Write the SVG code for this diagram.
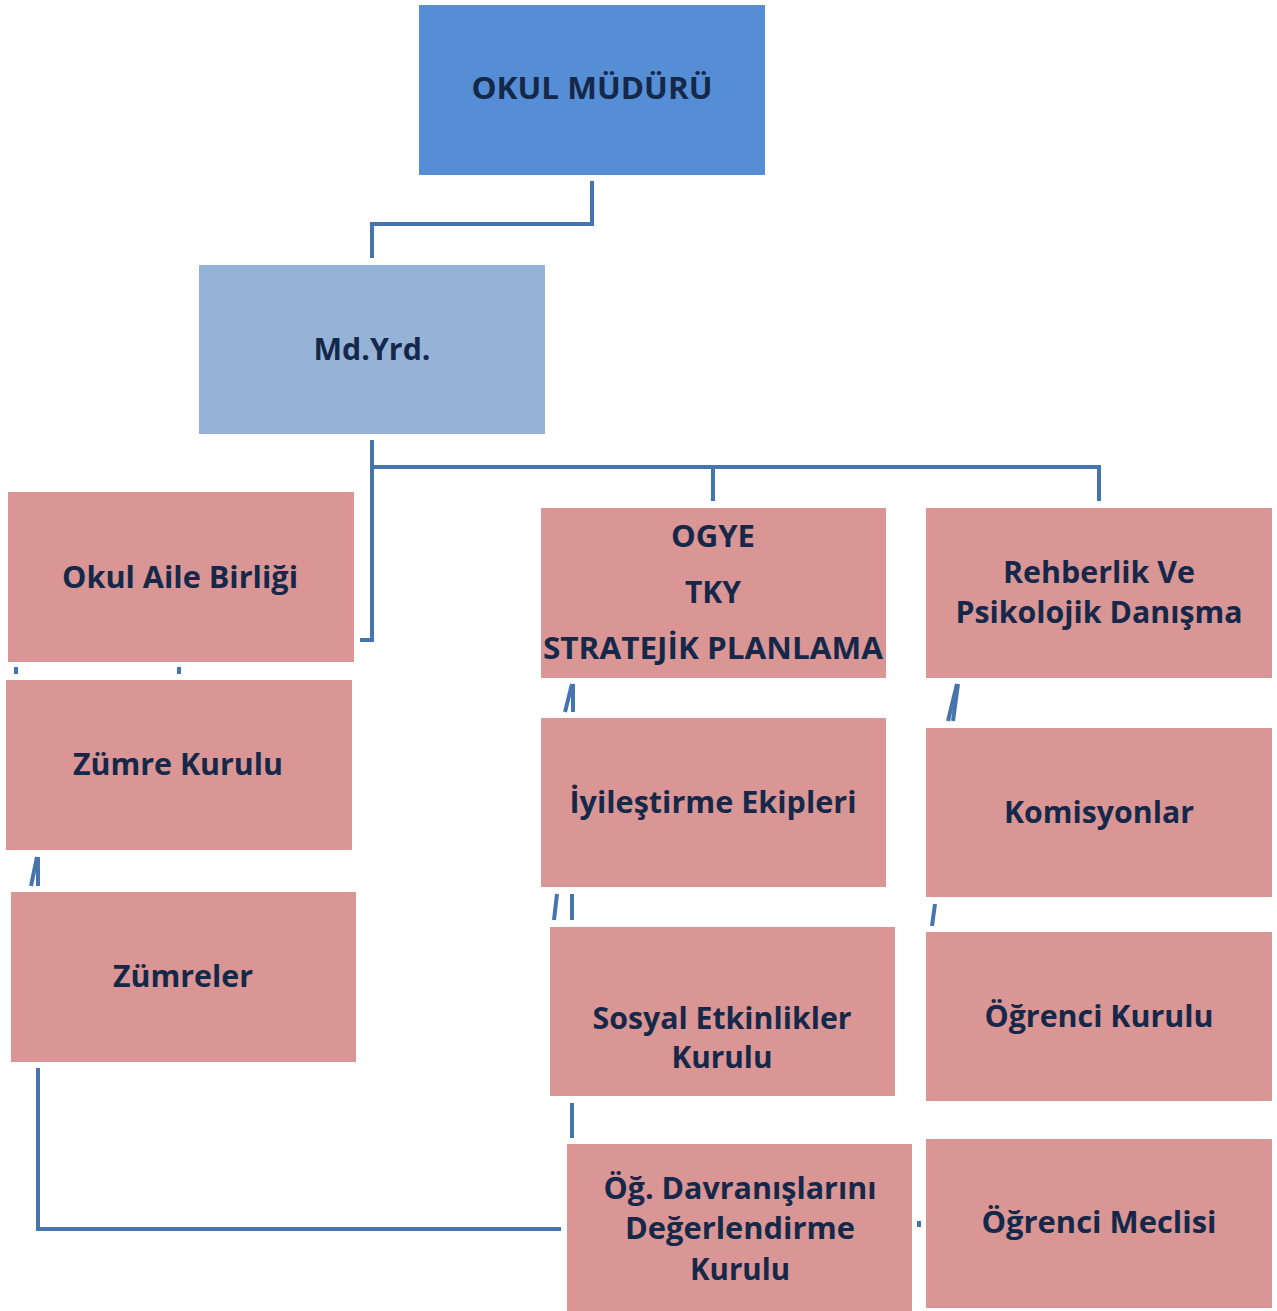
<svg xmlns="http://www.w3.org/2000/svg" width="1277" height="1311" viewBox="0 0 1277 1311">
<style>
.box{fill:#D99694;}
.t{font-family:"Open Sans","Liberation Sans",sans-serif;font-weight:bold;font-size:30px;fill:#15284A;text-anchor:middle;}
.c{fill:none;stroke:#4674AE;stroke-width:4;}
</style>
<rect width="1277" height="1311" fill="#FFFFFF"/>
<g id="connectors">
<polyline class="c" points="592,181 592,224 372,224 372,258"/>
<polyline class="c" points="372,440 372,640 360,640"/>
<polyline class="c" points="372,467 1099,467 1099,501"/>
<line class="c" x1="713" y1="467" x2="713" y2="501"/>
<line class="c" x1="16" y1="667" x2="16" y2="674" stroke-width="5"/>
<line class="c" x1="179" y1="667" x2="179" y2="674" stroke-width="5"/>
<line class="c" x1="37" y1="857" x2="31" y2="886"/>
<line class="c" x1="38" y1="857" x2="38" y2="886" stroke-width="3"/>
<line class="c" x1="572" y1="684" x2="565" y2="712"/>
<line class="c" x1="573" y1="684" x2="573" y2="712" stroke-width="3"/>
<line class="c" x1="557" y1="894" x2="554" y2="920"/>
<line class="c" x1="572" y1="894" x2="572" y2="920"/>
<line class="c" x1="957" y1="684" x2="948" y2="721"/>
<line class="c" x1="958" y1="684" x2="953" y2="721" stroke-width="3"/>
<line class="c" x1="935" y1="904" x2="932" y2="926"/>
<polyline class="c" points="572,1103 572,1138"/>
<line class="c" x1="919" y1="1221" x2="919" y2="1227" stroke-width="3"/>
<polyline class="c" points="38,1068 38,1229 561,1229"/>
</g>
<g id="n-mudur"><rect x="419" y="5" width="346" height="170" fill="#558ED5"/><text class="t" x="592" y="99" textLength="241" lengthAdjust="spacingAndGlyphs">OKUL MÜDÜRÜ</text></g>
<g id="n-mdyrd"><rect x="199" y="265" width="346" height="169" fill="#95B3D7"/><text class="t" x="372" y="360" textLength="117" lengthAdjust="spacingAndGlyphs">Md.Yrd.</text></g>
<g id="n-oab"><rect class="box" x="8" y="492" width="346" height="170"/><text class="t" x="180" y="588" textLength="236" lengthAdjust="spacingAndGlyphs">Okul Aile Birliği</text></g>
<g id="n-zk"><rect class="box" x="6" y="680" width="346" height="170"/><text class="t" x="178" y="775" textLength="210" lengthAdjust="spacingAndGlyphs">Zümre Kurulu</text></g>
<g id="n-z"><rect class="box" x="11" y="892" width="345" height="170"/><text class="t" x="183" y="987" textLength="140" lengthAdjust="spacingAndGlyphs">Zümreler</text></g>
<g id="n-ogye"><rect class="box" x="541" y="508" width="345" height="170"/>
<text class="t" x="713" y="547" textLength="84" lengthAdjust="spacingAndGlyphs">OGYE</text>
<text class="t" x="713" y="603" textLength="56" lengthAdjust="spacingAndGlyphs">TKY</text>
<text class="t" x="713" y="659" textLength="340" lengthAdjust="spacingAndGlyphs">STRATEJİK PLANLAMA</text></g>
<g id="n-rehber"><rect class="box" x="926" y="508" width="346" height="170"/>
<text class="t" x="1099" y="583" textLength="192" lengthAdjust="spacingAndGlyphs">Rehberlik Ve</text>
<text class="t" x="1099" y="623" textLength="287" lengthAdjust="spacingAndGlyphs">Psikolojik Danışma</text></g>
<g id="n-iyi"><rect class="box" x="541" y="718" width="345" height="169"/><text class="t" x="713" y="813" textLength="287" lengthAdjust="spacingAndGlyphs">İyileştirme Ekipleri</text></g>
<g id="n-kom"><rect class="box" x="926" y="728" width="346" height="169"/><text class="t" x="1099" y="823" textLength="190" lengthAdjust="spacingAndGlyphs">Komisyonlar</text></g>
<g id="n-sosyal"><rect class="box" x="550" y="927" width="345" height="169"/>
<text class="t" x="722" y="1029" textLength="259" lengthAdjust="spacingAndGlyphs">Sosyal Etkinlikler</text>
<text class="t" x="722" y="1068" textLength="101" lengthAdjust="spacingAndGlyphs">Kurulu</text></g>
<g id="n-ogk"><rect class="box" x="926" y="932" width="346" height="169"/><text class="t" x="1099" y="1027" textLength="229" lengthAdjust="spacingAndGlyphs">Öğrenci Kurulu</text></g>
<g id="n-odd"><rect class="box" x="567" y="1144" width="345" height="167"/>
<text class="t" x="740" y="1199" textLength="273" lengthAdjust="spacingAndGlyphs">Öğ. Davranışlarını</text>
<text class="t" x="740" y="1239" textLength="230" lengthAdjust="spacingAndGlyphs">Değerlendirme</text>
<text class="t" x="740" y="1280" textLength="100" lengthAdjust="spacingAndGlyphs">Kurulu</text></g>
<g id="n-ogm"><rect class="box" x="926" y="1139" width="346" height="169"/><text class="t" x="1099" y="1233" textLength="235" lengthAdjust="spacingAndGlyphs">Öğrenci Meclisi</text></g>
</svg>
